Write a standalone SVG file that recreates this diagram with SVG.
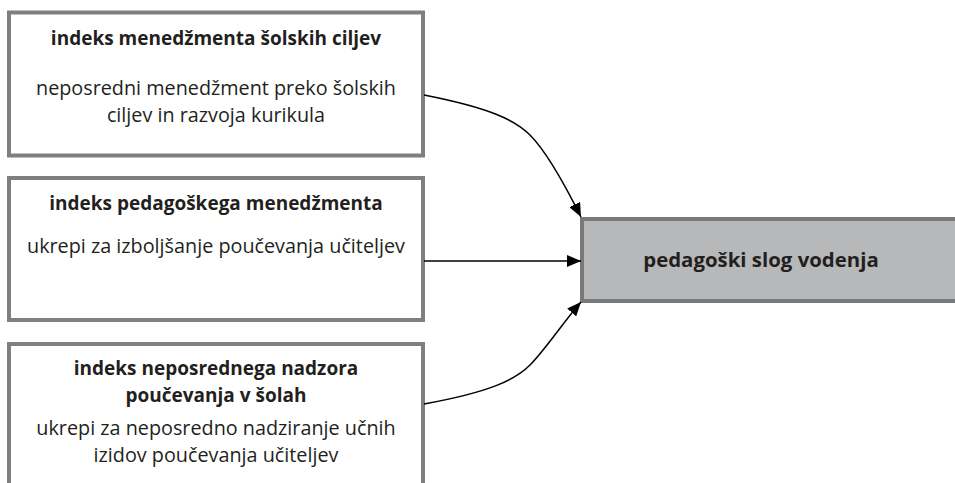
<svg xmlns="http://www.w3.org/2000/svg" width="955" height="483" viewBox="0 0 955 483">
<style>
.box{fill:#ffffff;stroke:#7d7f81;stroke-width:4}
.tgt{fill:#b7b8ba;stroke:#77797b;stroke-width:4}
.t{font-family:"Open Sans","Liberation Sans",sans-serif;font-size:19px;font-weight:bold;fill:#231f20;text-anchor:middle}
.b{font-family:"Open Sans","Liberation Sans",sans-serif;font-size:19.8px;fill:#231f20;text-anchor:middle}
.c{fill:none;stroke:#000;stroke-width:1.5}
</style>
<defs>
<marker id="ah" markerUnits="userSpaceOnUse" markerWidth="16" markerHeight="12" refX="14" refY="6" orient="auto">
<path d="M0,0 L14,6 L0,12 Z" fill="#000"/>
</marker>
</defs>
<rect width="955" height="483" fill="#fff"/>
<g id="n1">
<rect class="box" x="9" y="12.5" width="414" height="143"/>
<text class="t" x="216" y="45">indeks menedžmenta šolskih ciljev</text>
<text class="b" x="216" y="95">neposredni menedžment preko šolskih</text>
<text class="b" x="216" y="122">ciljev in razvoja kurikula</text>
</g>
<g id="n2">
<rect class="box" x="9" y="178" width="414" height="142"/>
<text class="t" x="216" y="210">indeks pedagoškega menedžmenta</text>
<text class="b" x="216" y="253">ukrepi za izboljšanje poučevanja učiteljev</text>
</g>
<g id="n3">
<rect class="box" x="9" y="344" width="414" height="160"/>
<text class="t" x="216" y="375">indeks neposrednega nadzora</text>
<text class="t" x="216" y="402">poučevanja v šolah</text>
<text class="b" x="216" y="435">ukrepi za neposredno nadziranje učnih</text>
<text class="b" x="216" y="462">izidov poučevanja učiteljev</text>
</g>
<g id="n4">
<rect class="tgt" x="582" y="219" width="400" height="82"/>
<text class="t" x="761" y="267" style="font-size:20.4px">pedagoški slog vodenja</text>
</g>
<g id="connectors">
<path class="c" marker-end="url(#ah)" d="M424,95 C490,108 515,120 530,135 C545,150 565,185 581,217"/>
<path class="c" marker-end="url(#ah)" d="M424,261 L581,261"/>
<path class="c" marker-end="url(#ah)" d="M424,404 C490,392 515,380 530,365 C545,350 565,320 581,302"/>
</g>
</svg>
